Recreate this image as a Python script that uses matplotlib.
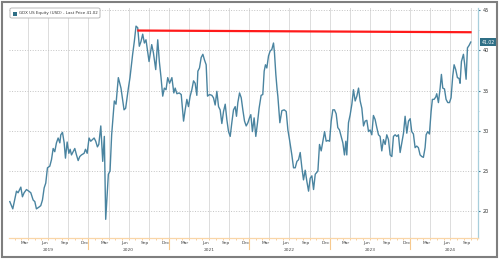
import matplotlib
matplotlib.use("Agg")
import matplotlib.pyplot as plt
from matplotlib.patches import FancyBboxPatch, Rectangle
from matplotlib.lines import Line2D
import matplotlib.transforms as mtrans
import pandas as pd

# ---- data (decimal-year dates, price) ----
years = [
 2019.021, 2019.058, 2019.104, 2019.124, 2019.158, 2019.178, 2019.199, 2019.228, 2019.257, 2019.282,
 2019.311, 2019.332, 2019.352, 2019.381, 2019.406, 2019.427, 2019.448, 2019.468, 2019.489, 2019.518,
 2019.539, 2019.560, 2019.580, 2019.601, 2019.622, 2019.643, 2019.655, 2019.676, 2019.697, 2019.713,
 2019.734, 2019.755, 2019.771, 2019.788, 2019.808, 2019.829, 2019.850, 2019.871, 2019.891, 2019.912,
 2019.945, 2019.962, 2019.983, 2020.007, 2020.028, 2020.049, 2020.070, 2020.090, 2020.111, 2020.128,
 2020.153, 2020.177, 2020.197, 2020.214, 2020.247, 2020.268, 2020.288, 2020.321, 2020.342, 2020.371,
 2020.404, 2020.442, 2020.462, 2020.496, 2020.516, 2020.549, 2020.570, 2020.591, 2020.612, 2020.632,
 2020.653, 2020.674, 2020.695, 2020.715, 2020.753, 2020.786, 2020.807, 2020.836, 2020.861, 2020.881,
 2020.902, 2020.923, 2020.943, 2020.964, 2020.985, 2021.006, 2021.035, 2021.059, 2021.076, 2021.097,
 2021.126, 2021.151, 2021.180, 2021.200, 2021.221, 2021.241, 2021.262, 2021.283, 2021.304, 2021.324,
 2021.345, 2021.358, 2021.378, 2021.399, 2021.420, 2021.440, 2021.461, 2021.478, 2021.503, 2021.532,
 2021.552, 2021.573, 2021.594, 2021.615, 2021.635, 2021.656, 2021.677, 2021.698, 2021.718, 2021.739,
 2021.760, 2021.780, 2021.801, 2021.822, 2021.838, 2021.855, 2021.876, 2021.897, 2021.917, 2021.938,
 2021.959, 2021.980, 2022.000, 2022.017, 2022.037, 2022.058, 2022.079, 2022.100, 2022.120, 2022.145,
 2022.166, 2022.183, 2022.199, 2022.216, 2022.237, 2022.257, 2022.278, 2022.299, 2022.311, 2022.328,
 2022.344, 2022.353, 2022.378, 2022.403, 2022.432, 2022.457, 2022.478, 2022.498, 2022.527, 2022.548,
 2022.569, 2022.590, 2022.610, 2022.631, 2022.652, 2022.672, 2022.693, 2022.714, 2022.735, 2022.755,
 2022.776, 2022.797, 2022.818, 2022.851, 2022.871, 2022.892, 2022.913, 2022.934, 2022.954, 2022.975,
 2022.996, 2023.017, 2023.037, 2023.058, 2023.079, 2023.099, 2023.120, 2023.141, 2023.162, 2023.182,
 2023.199, 2023.211, 2023.232, 2023.253, 2023.274, 2023.294, 2023.315, 2023.336, 2023.357, 2023.377,
 2023.398, 2023.419, 2023.439, 2023.460, 2023.481, 2023.501, 2023.522, 2023.542, 2023.563, 2023.584,
 2023.605, 2023.625, 2023.646, 2023.667, 2023.688, 2023.708, 2023.729, 2023.750, 2023.771, 2023.791,
 2023.812, 2023.833, 2023.853, 2023.874, 2023.895, 2023.916, 2023.936, 2023.957, 2023.978, 2023.999,
 2024.019, 2024.040, 2024.061, 2024.081, 2024.102, 2024.123, 2024.144, 2024.164, 2024.185, 2024.198,
 2024.218, 2024.239, 2024.260, 2024.276, 2024.297, 2024.318, 2024.330, 2024.351, 2024.372, 2024.388,
 2024.405, 2024.426, 2024.446, 2024.467, 2024.488, 2024.508, 2024.529, 2024.546, 2024.566, 2024.587,
 2024.608, 2024.620, 2024.637, 2024.662, 2024.678, 2024.695, 2024.712, 2024.732, 2024.753,
]
prices = [
 21.2, 20.3, 22.5, 22.3, 23.0, 21.8, 22.3, 22.7, 22.5, 22.3,
 21.4, 21.2, 20.3, 20.5, 20.7, 21.4, 22.9, 23.5, 25.4, 25.6,
 26.4, 27.8, 27.4, 28.5, 29.1, 28.5, 29.5, 29.8, 28.5, 26.6,
 28.6, 27.2, 27.7, 27.0, 27.4, 27.8, 27.0, 26.3, 26.8, 27.0,
 27.2, 27.7, 27.2, 29.1, 28.7, 28.9, 29.1, 28.7, 28.0, 28.3,
 30.6, 26.2, 29.3, 19.0, 24.6, 25.0, 29.5, 33.7, 33.3, 36.6,
 35.3, 32.6, 32.8, 35.3, 36.6, 39.5, 41.1, 43.0, 42.8, 40.5,
 41.1, 42.0, 40.9, 41.3, 38.6, 40.7, 39.7, 37.6, 41.3, 38.6,
 36.6, 34.3, 35.3, 35.1, 36.6, 35.9, 36.6, 34.7, 35.3, 34.6,
 34.7, 34.5, 31.2, 32.6, 33.9, 33.0, 34.3, 35.1, 36.2, 35.9,
 34.4, 37.4, 37.8, 39.1, 39.5, 38.8, 38.2, 34.3, 34.5, 34.4,
 34.1, 33.2, 34.9, 33.0, 32.6, 30.9, 32.4, 33.3, 31.4, 29.9,
 29.3, 31.0, 32.6, 33.0, 31.8, 33.5, 34.7, 34.1, 32.6, 31.2,
 30.6, 31.0, 31.6, 32.0, 29.9, 31.6, 29.3, 31.0, 32.8, 34.4,
 34.5, 37.4, 38.2, 37.8, 39.3, 39.9, 40.1, 40.9, 39.7, 37.0,
 35.1, 34.3, 31.0, 32.5, 32.6, 32.4, 30.1, 28.9, 27.0, 25.4,
 25.4, 26.2, 26.4, 27.3, 25.4, 23.9, 25.1, 23.7, 22.5, 24.1,
 24.4, 22.7, 24.6, 25.0, 28.3, 27.5, 28.7, 29.9, 28.7, 28.8,
 28.7, 31.2, 32.6, 32.6, 32.1, 30.4, 30.1, 29.3, 28.5, 27.0,
 28.7, 27.0, 31.0, 32.0, 33.3, 35.1, 33.7, 34.3, 35.3, 33.7,
 32.8, 30.6, 31.2, 31.3, 29.9, 30.1, 29.5, 31.9, 31.4, 30.4,
 29.5, 29.3, 27.5, 28.9, 28.3, 29.5, 28.9, 27.0, 26.8, 29.3,
 29.5, 29.3, 29.5, 27.3, 28.5, 29.7, 31.8, 29.7, 31.2, 31.5,
 29.9, 29.6, 27.9, 28.1, 27.9, 27.0, 26.8, 26.7, 27.9, 29.5,
 29.9, 29.6, 32.4, 33.9, 33.9, 34.2, 34.6, 33.5, 35.3, 37.0,
 35.3, 35.2, 33.9, 33.5, 33.5, 34.1, 36.8, 38.2, 37.6, 36.6,
 36.5, 35.9, 38.6, 39.5, 38.2, 36.4, 40.3, 40.6, 41.02,
]
trend_years = [2020.62, 2024.75]
trend_prices = [42.45, 42.24]
last_price = 41.02
legend_label = "GDX US Equity (USD) - Last Price 41.02"
y_ticks = [20, 25, 30, 35, 40, 45]
month_labels = {3: "Mar", 6: "Jun", 9: "Sep", 12: "Dec"}
label_years = [2019, 2020, 2021, 2022, 2023, 2024]


def to_date(t):
    y = int(t)
    return pd.Timestamp(year=y, month=1, day=1) + pd.Timedelta(days=(t - y) * 365.25)


dates = [to_date(t) for t in years]
trend_dates = [to_date(t) for t in trend_years]

LINE = "#4a84a0"
fig = plt.figure(figsize=(5.0, 2.61), dpi=100)
fig.patch.set_facecolor("white")
# outer frame
fig.add_artist(Rectangle((2 / 500, 4 / 261), 495 / 500, 255 / 261, transform=fig.transFigure,
                         fill=False, edgecolor="#7f7f7f", linewidth=1.5))

ax = fig.add_axes([9 / 500, 23 / 261, 469 / 500, 230 / 261])
ax.set_facecolor("white")

ax.plot(dates, prices, color=LINE, linewidth=1.0, zorder=3)
ax.plot(trend_dates, trend_prices, color="#ff1a1a", linewidth=1.6, zorder=4)

ax.set_xlim(to_date(2019.011), to_date(2024.843))
ax.set_ylim(16.68, 45.25)

# horizontal dotted grid
ax.set_yticks(y_ticks)
ax.yaxis.tick_right()
ax.grid(axis="y", linestyle=":", color="#c4c4c4", linewidth=0.7)
ax.set_yticks([v + 2.5 for v in y_ticks[:-1]], minor=True)
ax.tick_params(axis="y", which="major", right=True, left=False, length=1.6, width=0.8,
               color="#3b7790", labelsize=3.6, labelcolor="#333333", pad=1.5)
ax.tick_params(axis="y", which="minor", right=True, left=False, length=1.0, width=0.5,
               color="#8fb8c8")

# vertical grid at quarter starts
qstarts = pd.date_range("2019-04-01", "2024-10-01", freq="QS")
for d in qstarts:
    ax.axvline(d, color="#dcdcdc", linewidth=0.7, zorder=1)

# month labels at mid-month
mids = [pd.Timestamp(year=y, month=m, day=15) for y in label_years for m in month_labels
        if pd.Timestamp(year=y, month=m, day=15) < to_date(2024.843)]
ax.set_xticks(mids)
ax.set_xticklabels([month_labels[d.month] for d in mids])
ax.tick_params(axis="x", which="major", length=0, labelsize=3.2, labelcolor="#444444", pad=2.5)
ax.set_xticks(pd.date_range("2019-02-01", "2024-11-01", freq="MS"), minor=True)
ax.tick_params(axis="x", which="minor", length=1.2, width=0.6, color="#f7c98e")

trans = mtrans.blended_transform_factory(ax.transData, ax.transAxes)
for y in label_years:
    ax.text(pd.Timestamp(year=y, month=7, day=1), -0.042, str(y), transform=trans,
            ha="center", va="top", fontsize=3.2, color="#444444")
    if y > 2019:
        ax.add_line(Line2D([pd.Timestamp(year=y, month=1, day=1)] * 2, [0, -0.048],
                           transform=trans, color="#f7c98e", linewidth=0.8, clip_on=False))

for s in ["top", "left"]:
    ax.spines[s].set_visible(False)
ax.spines["right"].set_color("#a8cfdc")
ax.spines["right"].set_linewidth(0.9)
ax.spines["bottom"].set_color("#f9d6a8")
ax.spines["bottom"].set_linewidth(0.9)

# last price tag on the right axis
ax.annotate(f"{last_price:.2f}", xy=(1.0, last_price), xycoords=("axes fraction", "data"),
            xytext=(2.5, 0), textcoords="offset points", ha="left", va="center",
            fontsize=3.3, color="white",
            bbox=dict(boxstyle="square,pad=0.25", facecolor="#2f6f86", edgecolor="none"))

# legend box
leg_box = FancyBboxPatch((10 / 500, 1 - 18 / 261), 90 / 500, 10 / 261,
                         boxstyle="round,pad=0,rounding_size=0.004", transform=fig.transFigure,
                         facecolor="white", edgecolor="#b0b0b0", linewidth=0.6)
fig.add_artist(leg_box)
fig.add_artist(Rectangle((13 / 500, 1 - 15.5 / 261), 4 / 500, 4 / 261, transform=fig.transFigure,
                         facecolor="#2f6f86", edgecolor="none"))
fig.text(19 / 500, 1 - 13.3 / 261, legend_label, fontsize=2.85, color="#333333", va="center", ha="left")

fig.savefig("out.png", dpi=100)
